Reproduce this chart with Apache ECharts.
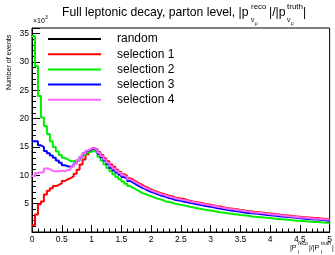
<!DOCTYPE html>
<html><head><meta charset="utf-8">
<script src="https://cdn.jsdelivr.net/npm/echarts@6/dist/echarts.min.js"></script>
<style>html,body{margin:0;padding:0;background:#fff}#c{width:335px;height:255px}</style>
</head><body><div id="c"></div>
<script>
// Histogram: 100 bins of width 0.05 from 0 to 5 (values in units of 10^3 events)
const binWidth = 0.05;
const seriesNames = ['random', 'selection 1', 'selection 2', 'selection 3', 'selection 4'];
const seriesColors = ['#000000', '#ff0000', '#00ee00', '#0000ff', '#ff66ff'];

const randomVals = [];
const sel1Vals = [
  1.2, 3.1, 4.9, 5.4, 6.6, 7.3, 7.7, 8.1, 8.3, 8.6,
  9.0, 9.3, 9.5, 9.8, 10.3, 11.0, 11.9, 12.8, 13.7, 14.4,
  14.8, 14.6, 14.1, 13.6, 13.0, 12.5, 11.9, 11.5, 11.0, 10.6,
  10.2, 9.9, 9.5, 9.2, 8.9, 8.6, 8.3, 8.0, 7.8, 7.5,
  7.3, 7.1, 6.9, 6.75, 6.6, 6.4, 6.3, 6.1, 6.0, 5.9,
  5.85, 5.7, 5.5, 5.4, 5.3, 5.2, 5.1, 5.0, 4.9, 4.8,
  4.7, 4.6, 4.55, 4.4, 4.3, 4.2, 4.15, 4.05, 4.0, 3.9,
  3.85, 3.75, 3.7, 3.6, 3.55, 3.5, 3.45, 3.4, 3.3, 3.25,
  3.2, 3.15, 3.1, 3.0, 2.95, 2.9, 2.85, 2.8, 2.75, 2.7,
  2.65, 2.6, 2.55, 2.5, 2.45, 2.45, 2.4, 2.35, 2.3, 2.25
];
const sel2Vals = [
  34.6, 29.3, 24.0, 20.2, 18.7, 17.3, 16.0, 15.0, 14.2, 13.6,
  13.1, 12.8, 12.5, 12.5, 12.6, 12.9, 13.2, 13.6, 14.0, 14.2,
  14.3, 14.0, 13.3, 12.6, 11.9, 11.3, 10.7, 10.2, 9.7, 9.3,
  8.9, 8.5, 8.1, 7.8, 7.5, 7.2, 6.9, 6.7, 6.5, 6.3,
  6.1, 5.9, 5.8, 5.6, 5.4, 5.3, 5.2, 5.0, 4.9, 4.8,
  4.7, 4.6, 4.45, 4.35, 4.25, 4.15, 4.05, 3.95, 3.85, 3.8,
  3.7, 3.6, 3.5, 3.45, 3.35, 3.3, 3.2, 3.15, 3.1, 3.0,
  2.95, 2.9, 2.85, 2.75, 2.7, 2.65, 2.6, 2.55, 2.5, 2.45,
  2.4, 2.35, 2.3, 2.25, 2.2, 2.15, 2.1, 2.05, 2.0, 1.98,
  1.95, 1.9, 1.85, 1.82, 1.78, 1.75, 1.72, 1.68, 1.65, 1.62
];
const sel3Vals = [
  16.0, 16.0, 15.3, 15.0, 14.3, 13.9, 13.5, 13.1, 12.6, 12.2,
  11.8, 11.6, 11.5, 11.7, 12.1, 12.6, 13.3, 13.9, 14.3, 14.6,
  14.7, 14.4, 13.8, 13.2, 12.6, 12.0, 11.3, 10.9, 10.5, 10.1,
  9.7, 9.4, 9.0, 8.7, 8.4, 8.1, 7.8, 7.6, 7.3, 7.1,
  6.9, 6.7, 6.5, 6.35, 6.2, 6.0, 5.9, 5.7, 5.6, 5.5,
  5.4, 5.3, 5.15, 5.05, 4.95, 4.85, 4.75, 4.65, 4.55, 4.45,
  4.35, 4.25, 4.15, 4.05, 3.95, 3.9, 3.8, 3.7, 3.65, 3.55,
  3.5, 3.4, 3.35, 3.3, 3.25, 3.2, 3.15, 3.1, 3.0, 2.95,
  2.9, 2.85, 2.8, 2.75, 2.7, 2.65, 2.6, 2.55, 2.5, 2.45,
  2.4, 2.35, 2.3, 2.25, 2.2, 2.2, 2.15, 2.1, 2.05, 2.0
];
const sel4Vals = [
  9.9, 10.4, 10.5, 10.6, 11.2, 11.1, 10.8, 10.7, 10.7, 10.8,
  10.7, 10.9, 11.1, 11.5, 12.0, 12.7, 13.3, 13.9, 14.4, 14.7,
  14.8, 14.5, 14.0, 13.4, 12.8, 12.2, 11.6, 11.2, 10.8, 10.4,
  10.0, 9.7, 9.3, 9.0, 8.7, 8.4, 8.1, 7.8, 7.6, 7.35,
  7.15, 6.95, 6.75, 6.6, 6.45, 6.25, 6.15, 5.95, 5.85, 5.75,
  5.65, 5.55, 5.4, 5.3, 5.2, 5.1, 5.0, 4.9, 4.8, 4.7,
  4.6, 4.5, 4.4, 4.3, 4.2, 4.1, 4.05, 3.95, 3.9, 3.8,
  3.75, 3.65, 3.6, 3.5, 3.45, 3.4, 3.35, 3.3, 3.2, 3.15,
  3.1, 3.05, 3.0, 2.9, 2.85, 2.8, 2.75, 2.7, 2.65, 2.6,
  2.55, 2.5, 2.45, 2.4, 2.35, 2.35, 2.3, 2.25, 2.2, 2.15
];
const allVals = [randomVals, sel1Vals, sel2Vals, sel3Vals, sel4Vals];

const xMin = 0, xMax = 5, xInterval = 0.5;
const yMin = 0, yMax = 36, yInterval = 5;

function histData(vals) {
  if (!vals.length) return [];
  const pts = vals.map((v, i) => [i * binWidth, v]);
  pts.push([vals.length * binWidth, vals[vals.length - 1]]);
  return pts;
}

const FONT = '"Liberation Sans", Arial, sans-serif';
const chart = echarts.init(document.getElementById('c'), null, {renderer: 'canvas'});

const series = seriesNames.map((name, k) => ({
  name: name,
  type: 'line',
  step: 'end',
  data: histData(allVals[k]),
  showSymbol: false,
  symbol: 'none',
  lineStyle: {color: seriesColors[k], width: 2},
  itemStyle: {color: seriesColors[k]},
  animation: false,
  z: 2 + k
}));

chart.setOption({
  animation: false,
  backgroundColor: '#ffffff',
  grid: {left: 32, right: 2, top: 28, bottom: 23, show: true, borderColor: '#000', borderWidth: 1, backgroundColor: 'transparent'},
  legend: {
    orient: 'vertical', left: 43, top: 27, itemWidth: 53, itemHeight: 2, itemGap: 1.2,
    icon: 'rect',
    data: seriesNames,
    textStyle: {fontFamily: FONT, fontSize: 12, color: '#000', padding: [0, 0, 0, 11], lineHeight: 14}
  },
  xAxis: {
    type: 'value', min: xMin, max: xMax, interval: xInterval,
    axisLine: {lineStyle: {color: '#000', width: 1}},
    axisTick: {inside: true, length: 7, lineStyle: {color: '#000'}},
    minorTick: {show: true, splitNumber: 5, length: 3.5, lineStyle: {color: '#000'}},
    splitLine: {show: false},
    axisLabel: {fontFamily: FONT, fontSize: 8.5, color: '#000', margin: 3}
  },
  yAxis: {
    type: 'value', min: yMin, max: yMax, interval: yInterval,
    axisLine: {lineStyle: {color: '#000', width: 1}},
    axisTick: {inside: true, length: 8, lineStyle: {color: '#000'}},
    minorTick: {show: true, splitNumber: 5, length: 4, lineStyle: {color: '#000'}},
    splitLine: {show: false},
    axisLabel: {fontFamily: FONT, fontSize: 8.5, color: '#000', margin: 3, showMaxLabel: false,
      formatter: v => (v === 0 || v % 5 !== 0) ? '' : String(v)}
  },
  graphic: [
    {type: 'text', left: 62, top: 7, style: {text: 'Full leptonic decay, parton level, |p', font: '12.2px ' + FONT, fill: '#000'}},
    {type: 'text', left: 251, top: 3, style: {text: 'reco', font: '8px ' + FONT, fill: '#000'}},
    {type: 'text', left: 251, top: 17, style: {text: 'ν', font: '7px ' + FONT, fill: '#000'}},
    {type: 'text', left: 255, top: 21, style: {text: 'μ', font: '4.5px ' + FONT, fill: '#000'}},
    {type: 'text', left: 269, top: 7, style: {text: '|/|p', font: '12.2px ' + FONT, fill: '#000'}},
    {type: 'text', left: 287, top: 3, style: {text: 'truth', font: '8px ' + FONT, fill: '#000'}},
    {type: 'text', left: 287, top: 17, style: {text: 'ν', font: '7px ' + FONT, fill: '#000'}},
    {type: 'text', left: 291, top: 21, style: {text: 'μ', font: '4.5px ' + FONT, fill: '#000'}},
    {type: 'text', left: 303, top: 7, style: {text: '|', font: '12.2px ' + FONT, fill: '#000'}},
    {type: 'text', left: 33, top: 18, style: {text: '×10', font: '7px ' + FONT, fill: '#000'}},
    {type: 'text', left: 45, top: 15, style: {text: '3', font: '5px ' + FONT, fill: '#000'}},
    {type: 'text', x: 6, y: 90, rotation: Math.PI / 2, style: {text: 'Number of events', font: '7px ' + FONT, fill: '#000', align: 'left', verticalAlign: 'top'}},
    {type: 'text', left: 290, top: 245, style: {text: '|P', font: '7px ' + FONT, fill: '#000'}},
    {type: 'text', left: 298, top: 241, style: {text: 'reco', font: '5px ' + FONT, fill: '#000'}},
    {type: 'text', left: 298, top: 250, style: {text: 'l', font: '5px ' + FONT, fill: '#000'}},
    {type: 'text', left: 309, top: 245, style: {text: '|/|P', font: '7px ' + FONT, fill: '#000'}},
    {type: 'text', left: 321, top: 241, style: {text: 'truth', font: '5px ' + FONT, fill: '#000'}},
    {type: 'text', left: 321, top: 250, style: {text: 'l', font: '5px ' + FONT, fill: '#000'}},
    {type: 'text', left: 332, top: 245, style: {text: '|', font: '7px ' + FONT, fill: '#000'}}
  ],
  series: series
});
</script>
</body></html>
